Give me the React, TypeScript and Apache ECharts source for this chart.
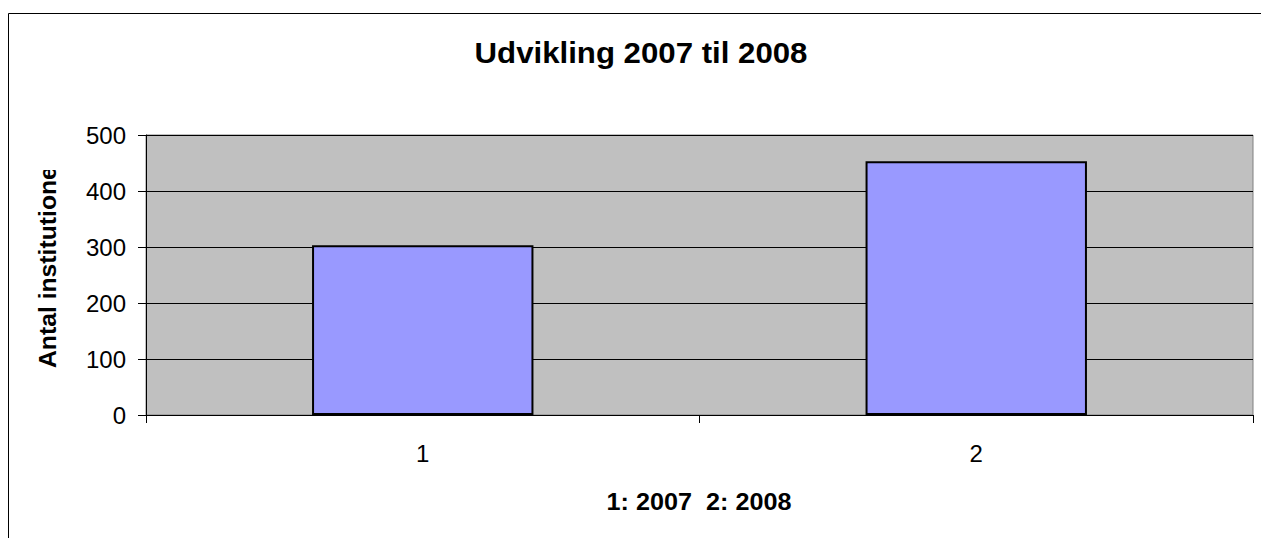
import React, { useEffect, useRef } from "react";
import * as echarts from "echarts";

const categories = ["1", "2"];
const values = [303, 453];
const yTicks = { min: 0, max: 500, interval: 100 };
const titleText = "Udvikling 2007 til 2008";
const yName = "Antal institutioner";
const xName = "1: 2007  2: 2008";

export default function App() {
  const ref = useRef<HTMLDivElement>(null);
  useEffect(() => {
    if (!ref.current) return;
    const chart = echarts.init(ref.current, null, { renderer: "svg" });
    const font = "Liberation Sans, Arial, sans-serif";
    chart.setOption({
      animation: false,
      backgroundColor: "#ffffff",
      grid: {
        left: 146,
        top: 135,
        right: 8,
        bottom: 123,
        show: true,
        backgroundColor: "#C0C0C0",
        borderColor: "#808080",
        borderWidth: 1,
        containLabel: false,
      },
      xAxis: {
        type: "category",
        data: categories,
        boundaryGap: true,
        axisLine: { lineStyle: { color: "#000", width: 1 } },
        axisTick: { show: true, length: 8, lineStyle: { color: "#000" } },
        axisLabel: { color: "#000", fontSize: 24, fontFamily: font, margin: 26 },
        splitLine: { show: false },
      },
      yAxis: {
        type: "value",
        min: yTicks.min,
        max: yTicks.max,
        interval: yTicks.interval,
        axisLine: { show: true, lineStyle: { color: "#000", width: 1 } },
        axisTick: { show: true, length: 8, lineStyle: { color: "#000" } },
        axisLabel: { color: "#000", fontSize: 24, fontFamily: font, margin: 20 },
        splitLine: { show: true, lineStyle: { color: "#000", width: 1 } },
      },
      series: [
        {
          type: "bar",
          data: values,
          barWidth: "40%",
          itemStyle: { color: "#9999FF", borderColor: "#000", borderWidth: 2 },
        },
      ],
      graphic: [
        {
          type: "rect",
          shape: { x: 8.5, y: 13.5, width: 1400, height: 700 },
          style: { fill: "none", stroke: "#000", lineWidth: 1 },
          silent: true,
          z: 100,
        },
        {
          type: "text",
          x: 641,
          y: 52,
          scaleX: 1.04,
          style: {
            text: titleText,
            font: `bold 30px ${font}`,
            fill: "#000",
            textAlign: "center",
            textVerticalAlign: "middle",
          },
        },
        {
          type: "text",
          x: 48,
          y: 368,
          rotation: Math.PI / 2,
          scaleX: 1.03,
          style: {
            text: yName,
            font: `bold 24px ${font}`,
            fill: "#000",
            textAlign: "left",
            textVerticalAlign: "middle",
          },
          z: 10,
        },
        {
          type: "rect",
          shape: { x: 25, y: 100, width: 50, height: 70 },
          style: { fill: "#ffffff" },
          silent: true,
          z: 20,
        },
        {
          type: "text",
          x: 699,
          y: 502,
          scaleX: 1.05,
          style: {
            text: xName,
            font: `bold 24px ${font}`,
            fill: "#000",
            textAlign: "center",
            textVerticalAlign: "middle",
          },
        },
      ],
    });
    return () => chart.dispose();
  }, []);
  return (
    <div
      ref={ref}
      style={{ position: "fixed", left: 0, top: 0, width: 1261, height: 538 }}
    />
  );
}
